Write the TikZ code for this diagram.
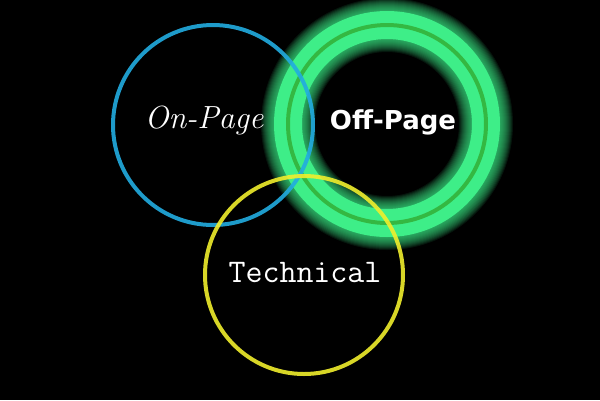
\documentclass[tikz,border=0pt]{standalone}
\usepackage{fontspec}
\usepackage{tikz}
\newfontfamily\roundfont{DejaVu Sans}
\definecolor{onblue}{RGB}{34, 172, 224}
\definecolor{offglow}{RGB}{62, 238, 136}
\definecolor{offline}{RGB}{52, 184, 66}
\definecolor{techyellow}{RGB}{240, 238, 44}

\begin{document}
\begin{tikzpicture}[x=1pt, y=-1pt, thick]
  \fill[black] (0, 0) rectangle (600, 400);
  \clip (0, 0) rectangle (600, 400);

  % glowing ring
  \foreach \w in {54, 52,..., 30} {
    \draw[offglow, opacity=0.09, line width=\w pt] (387, 124) circle (99);
  }
  \draw[offglow, line width=28pt] (387, 124) circle (99);
  \draw[offline, line width=4pt] (387, 124) circle (99);
  \node[color=white, font=\roundfont\bfseries\fontsize{26}{26}\selectfont] (off) at (393, 122) {Off-Page};

  \draw[onblue, line width=4pt, opacity=0.9] (213, 125) circle (100);
  \node[color=white, font=\itshape\fontsize{32}{32}\selectfont] (on) at (204, 120) {On-Page};

  \draw[techyellow, line width=4pt, opacity=0.9] (304, 275) circle (99);
  \node[color=white, font=\ttfamily\fontsize{33}{33}\selectfont] (tech) at (305, 273) {Technical};
\end{tikzpicture}
\end{document}
